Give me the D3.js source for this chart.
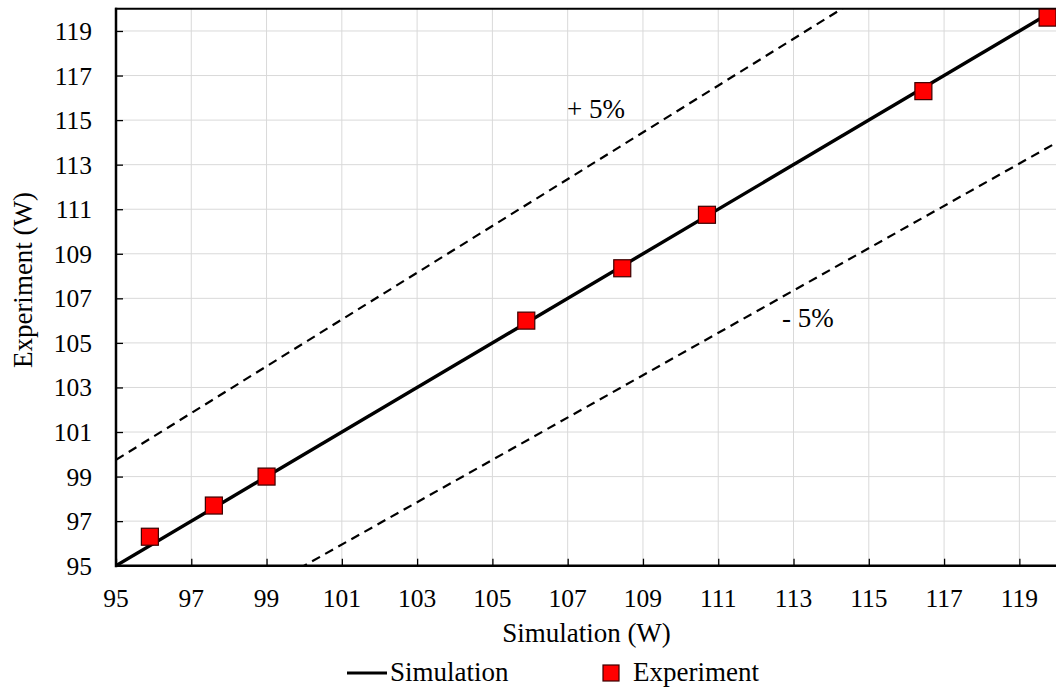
<!DOCTYPE html>
<html>
<head>
<meta charset="utf-8">
<script src="https://cdn.jsdelivr.net/npm/d3@7"></script>
<style>
	body { margin: 0; background: #fff; }
</style>
</head>
<body>
<div id="chart"></div>
<script>

// data
const simX = [95.9, 97.6, 99.0, 105.9, 108.45, 110.7, 116.45, 119.75];
const expY = [96.3, 97.7, 99.0, 106.0, 108.35, 110.75, 116.3, 119.6];
const simLine = [95, 120];
const bandPlus = 1.05;
const bandMinus = 0.95;
const tickVals = [95, 97, 99, 101, 103, 105, 107, 109, 111, 113, 115, 117, 119];

const width = 1056, height = 693;
const margin = {top: 8.7, right: -1, bottom: 127.3, left: 116};
const serif = "'Liberation Serif', 'Times New Roman', Times, serif";

let svg = d3.select("#chart")
	.append("svg")
	.attr("width", width)
	.attr("height", height)
	.attr("font-family", serif);

let x = d3.scaleLinear().domain([95, 120]).range([margin.left, width - margin.right]);
let y = d3.scaleLinear().domain([95, 120]).range([height - margin.bottom, margin.top]);

svg.append("clipPath").attr("id", "plot-clip")
	.append("rect")
	.attr("x", x(95)).attr("y", y(120))
	.attr("width", x(120) - x(95)).attr("height", y(95) - y(120));

//gridlines
let grid = svg.append("g");
grid.selectAll(".gx").data(tickVals.slice(1))
	.enter().append("line")
	.attr("x1", d => x(d)).attr("x2", d => x(d))
	.attr("y1", y(95)).attr("y2", y(120))
	.attr("stroke", "#d9d9d9").attr("stroke-width", 1);
grid.selectAll(".gy").data(tickVals.slice(1))
	.enter().append("line")
	.attr("y1", d => y(d)).attr("y2", d => y(d))
	.attr("x1", x(95)).attr("x2", x(120))
	.attr("stroke", "#d9d9d9").attr("stroke-width", 1);

//axes (ticks inside)
let xAxis = svg.append("g")
	.attr("transform", "translate(0," + y(95) + ")")
	.call(d3.axisTop(x).tickValues(tickVals).tickSize(7).tickFormat(""));
xAxis.select(".domain").remove();
xAxis.selectAll("line").attr("stroke", "#000").attr("stroke-width", 1.3);

let yAxis = svg.append("g")
	.attr("transform", "translate(" + x(95) + ",0)")
	.call(d3.axisRight(y).tickValues(tickVals).tickSize(7).tickFormat(""));
yAxis.select(".domain").remove();
yAxis.selectAll("line").attr("stroke", "#000").attr("stroke-width", 1.3);

svg.append("g").selectAll(".xl").data(tickVals)
	.enter().append("text")
	.attr("x", d => x(d))
	.attr("y", y(95) + 41)
	.attr("text-anchor", "middle")
	.style("font-family", serif)
	.style("font-size", "25.5px")
	.text(d => d);

svg.append("g").selectAll(".yl").data(tickVals)
	.enter().append("text")
	.attr("x", x(95) - 24)
	.attr("y", d => y(d) + 9)
	.attr("text-anchor", "end")
	.style("font-family", serif)
	.style("font-size", "25.5px")
	.text(d => d);

//lines
let plot = svg.append("g").attr("clip-path", "url(#plot-clip)");
let line = d3.line().x(d => x(d[0])).y(d => y(d[1]));

plot.append("path")
	.datum(simLine.map(v => [v, v * bandPlus]))
	.attr("d", line)
	.attr("fill", "none").attr("stroke", "#000")
	.attr("stroke-width", 2.2).attr("stroke-dasharray", "9,6");

plot.append("path")
	.datum(simLine.map(v => [v, v * bandMinus]))
	.attr("d", line)
	.attr("fill", "none").attr("stroke", "#000")
	.attr("stroke-width", 2.2).attr("stroke-dasharray", "9,6");

plot.append("path")
	.datum(simLine.map(v => [v, v]))
	.attr("d", line)
	.attr("fill", "none").attr("stroke", "#000")
	.attr("stroke-width", 3.4);

//plot frame
svg.append("line")
	.attr("x1", x(95)).attr("x2", x(95)).attr("y1", y(120) - 1).attr("y2", y(95) + 1.5)
	.attr("stroke", "#000").attr("stroke-width", 2.5);
svg.append("line")
	.attr("x1", x(95) - 1).attr("x2", width).attr("y1", y(95)).attr("y2", y(95))
	.attr("stroke", "#000").attr("stroke-width", 2.5);
svg.append("line")
	.attr("x1", x(95) - 1).attr("x2", width).attr("y1", y(120)).attr("y2", y(120))
	.attr("stroke", "#000").attr("stroke-width", 2);

//experiment points
svg.append("g").selectAll(".pt").data(simX)
	.enter().append("rect")
	.attr("x", d => x(d) - 8.5)
	.attr("y", (d, i) => y(expY[i]) - 8.5)
	.attr("width", 17).attr("height", 17)
	.attr("fill", "#ff0000").attr("stroke", "#3a0000").attr("stroke-width", 1.2);

//band labels
svg.append("text")
	.attr("x", 567).attr("y", 118)
	.style("font-family", serif)
	.style("font-size", "27px")
	.text("+ 5%");
svg.append("text")
	.attr("x", 782).attr("y", 327)
	.style("font-family", serif)
	.style("font-size", "27px")
	.text("- 5%");

//axis titles
svg.append("text")
	.attr("x", (x(95) + x(120)) / 2).attr("y", 642)
	.attr("text-anchor", "middle")
	.style("font-family", serif)
	.style("font-size", "27px")
	.text("Simulation (W)");

svg.append("text")
	.attr("transform", "translate(32,280) rotate(-90)")
	.attr("text-anchor", "middle")
	.style("font-family", serif)
	.style("font-size", "27px")
	.text("Experiment (W)");

//legend
svg.append("line")
	.attr("x1", 347).attr("x2", 387).attr("y1", 673).attr("y2", 673)
	.attr("stroke", "#000").attr("stroke-width", 3.2);
svg.append("text")
	.attr("x", 390).attr("y", 681)
	.style("font-family", serif)
	.style("font-size", "27px")
	.text("Simulation");
svg.append("rect")
	.attr("x", 603).attr("y", 665).attr("width", 16).attr("height", 16)
	.attr("fill", "#ff0000").attr("stroke", "#3a0000").attr("stroke-width", 1.2);
svg.append("text")
	.attr("x", 633).attr("y", 681)
	.style("font-family", serif)
	.style("font-size", "27px")
	.text("Experiment");

</script>
</body>
</html>
